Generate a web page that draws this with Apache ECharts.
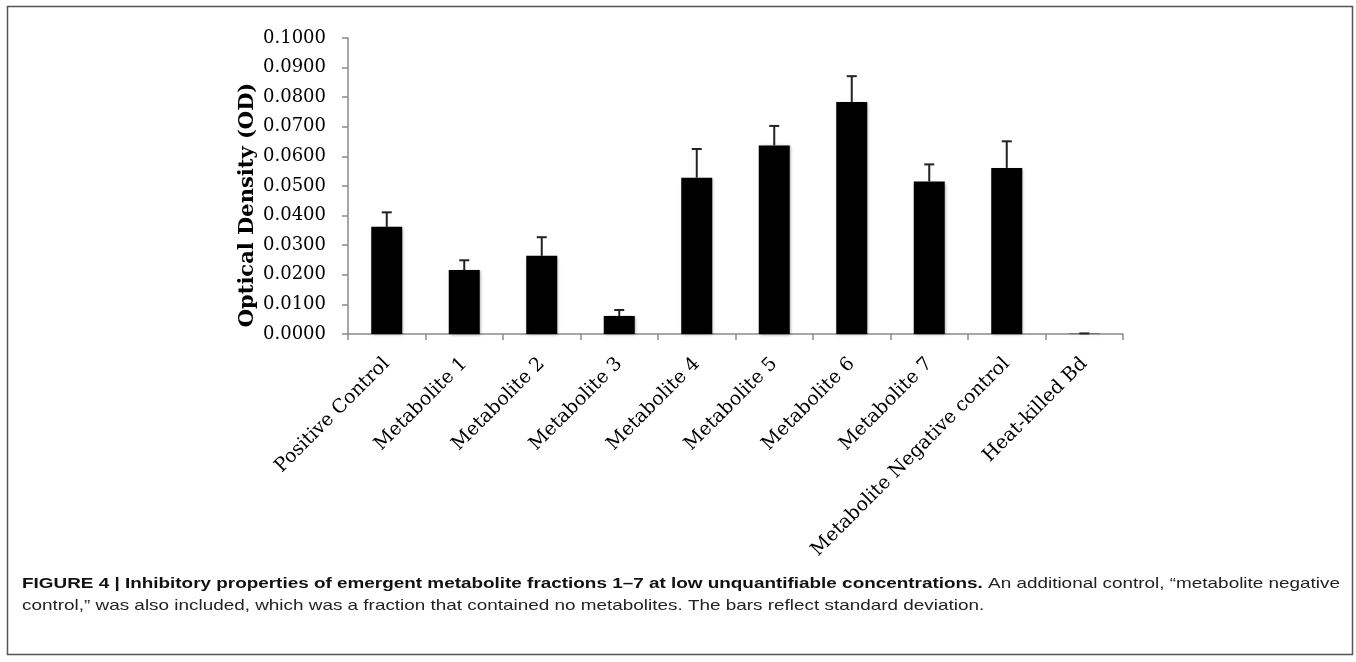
<!DOCTYPE html>
<html>
<head>
<meta charset="utf-8">
<script src="https://cdn.jsdelivr.net/npm/echarts@6/dist/echarts.min.js"></script>
<style>
html,body{margin:0;padding:0;background:#fff;}
#chart{width:1356px;height:662px;}
</style>
</head>
<body>
<div id="chart"></div>
<script>
const categories = ['Positive Control','Metabolite 1','Metabolite 2','Metabolite 3','Metabolite 4','Metabolite 5','Metabolite 6','Metabolite 7','Metabolite Negative control','Heat-killed Bd'];
const meanOD = [0.0362, 0.0216, 0.0264, 0.0061, 0.0528, 0.0637, 0.0784, 0.0515, 0.0561, 0.0001];
const sdOD = [0.0049, 0.0033, 0.0063, 0.0020, 0.0097, 0.0066, 0.0087, 0.0058, 0.0090, 0.0001];
const yTicks = {min: 0, max: 0.1, interval: 0.01};
const yTitle = 'Optical Density (OD)';
const captionBold = 'FIGURE 4 | Inhibitory properties of emergent metabolite fractions 1–7 at low unquantifiable concentrations.';
const captionLine1 = ' An additional control, “metabolite negative';
const captionLine2 = 'control,” was also included, which was a fraction that contained no metabolites. The bars reflect standard deviation.';

const chart = echarts.init(document.getElementById('chart'));
const serif = 'DejaVu Serif';
const capFont = '"Liberation Sans", Arial, sans-serif';
const capSize = 15;

// horizontal condensing of caption so line 1 spans the framed width
const ctx = document.createElement('canvas').getContext('2d');
ctx.font = 'bold ' + capSize + 'px ' + capFont;
let w1 = ctx.measureText(captionBold).width;
ctx.font = capSize + 'px ' + capFont;
w1 += ctx.measureText(captionLine1).width;
const capScale = (1340 - 22) / w1;

chart.setOption({
  animation: false,
  backgroundColor: '#fff',
  grid: {left: 348, right: 233, top: 38, bottom: 328, containLabel: false},
  xAxis: {
    type: 'category',
    data: categories,
    axisLine: {lineStyle: {color: '#8a8a8a', width: 1.5}},
    axisTick: {show: true, length: 6, lineStyle: {color: '#8a8a8a', width: 1.5}},
    axisLabel: {rotate: 45, interval: 0, margin: 27, color: '#000', fontFamily: serif, fontSize: 19}
  },
  yAxis: {
    type: 'value',
    min: yTicks.min, max: yTicks.max, interval: yTicks.interval,
    splitLine: {show: false},
    axisLine: {show: true, lineStyle: {color: '#8a8a8a', width: 1.5}},
    axisTick: {show: true, length: 6, lineStyle: {color: '#8a8a8a', width: 1.5}},
    axisLabel: {margin: 22, color: '#000', fontFamily: serif, fontSize: 18,
      formatter: v => v.toFixed(4)}
  },
  series: [
    {
      type: 'bar',
      data: meanOD,
      barWidth: '40%',
      itemStyle: {color: '#000', shadowColor: 'rgba(0,0,0,0.35)', shadowBlur: 3, shadowOffsetX: 1, shadowOffsetY: 1}
    },
    {
      type: 'custom',
      data: meanOD.map((v, i) => [i, v, v + sdOD[i]]),
      z: 5,
      renderItem: function (params, api) {
        const base = api.coord([api.value(0), api.value(1)]);
        const top = api.coord([api.value(0), api.value(2)]);
        const hw = 5;
        return {
          type: 'group',
          children: [
            {type: 'line', shape: {x1: base[0], y1: base[1], x2: top[0], y2: top[1]}, style: {stroke: '#222', lineWidth: 2}},
            {type: 'line', shape: {x1: top[0] - hw, y1: top[1], x2: top[0] + hw, y2: top[1]}, style: {stroke: '#222', lineWidth: 2}}
          ]
        };
      }
    }
  ],
  graphic: [
    {type: 'rect', shape: {x: 7.5, y: 6.5, width: 1345, height: 648}, style: {fill: 'none', stroke: '#555', lineWidth: 1.5}, silent: true},
    {type: 'text', x: 248, y: 205, rotation: Math.PI / 2, style: {
      text: yTitle, font: 'bold 21px ' + serif, fill: '#000', align: 'center', verticalAlign: 'middle'
    }},
    {type: 'text', x: 22, y: 584, scaleX: capScale, style: {
      text: '{b|' + captionBold + '}' + captionLine1,
      font: capSize + 'px ' + capFont, fill: '#222', verticalAlign: 'middle',
      rich: {b: {fontWeight: 'bold', fontFamily: capFont, fontSize: capSize, fill: '#111'}}
    }},
    {type: 'text', x: 22, y: 606, scaleX: capScale, style: {
      text: captionLine2, font: capSize + 'px ' + capFont, fill: '#222', verticalAlign: 'middle'
    }}
  ]
});
</script>
</body>
</html>
